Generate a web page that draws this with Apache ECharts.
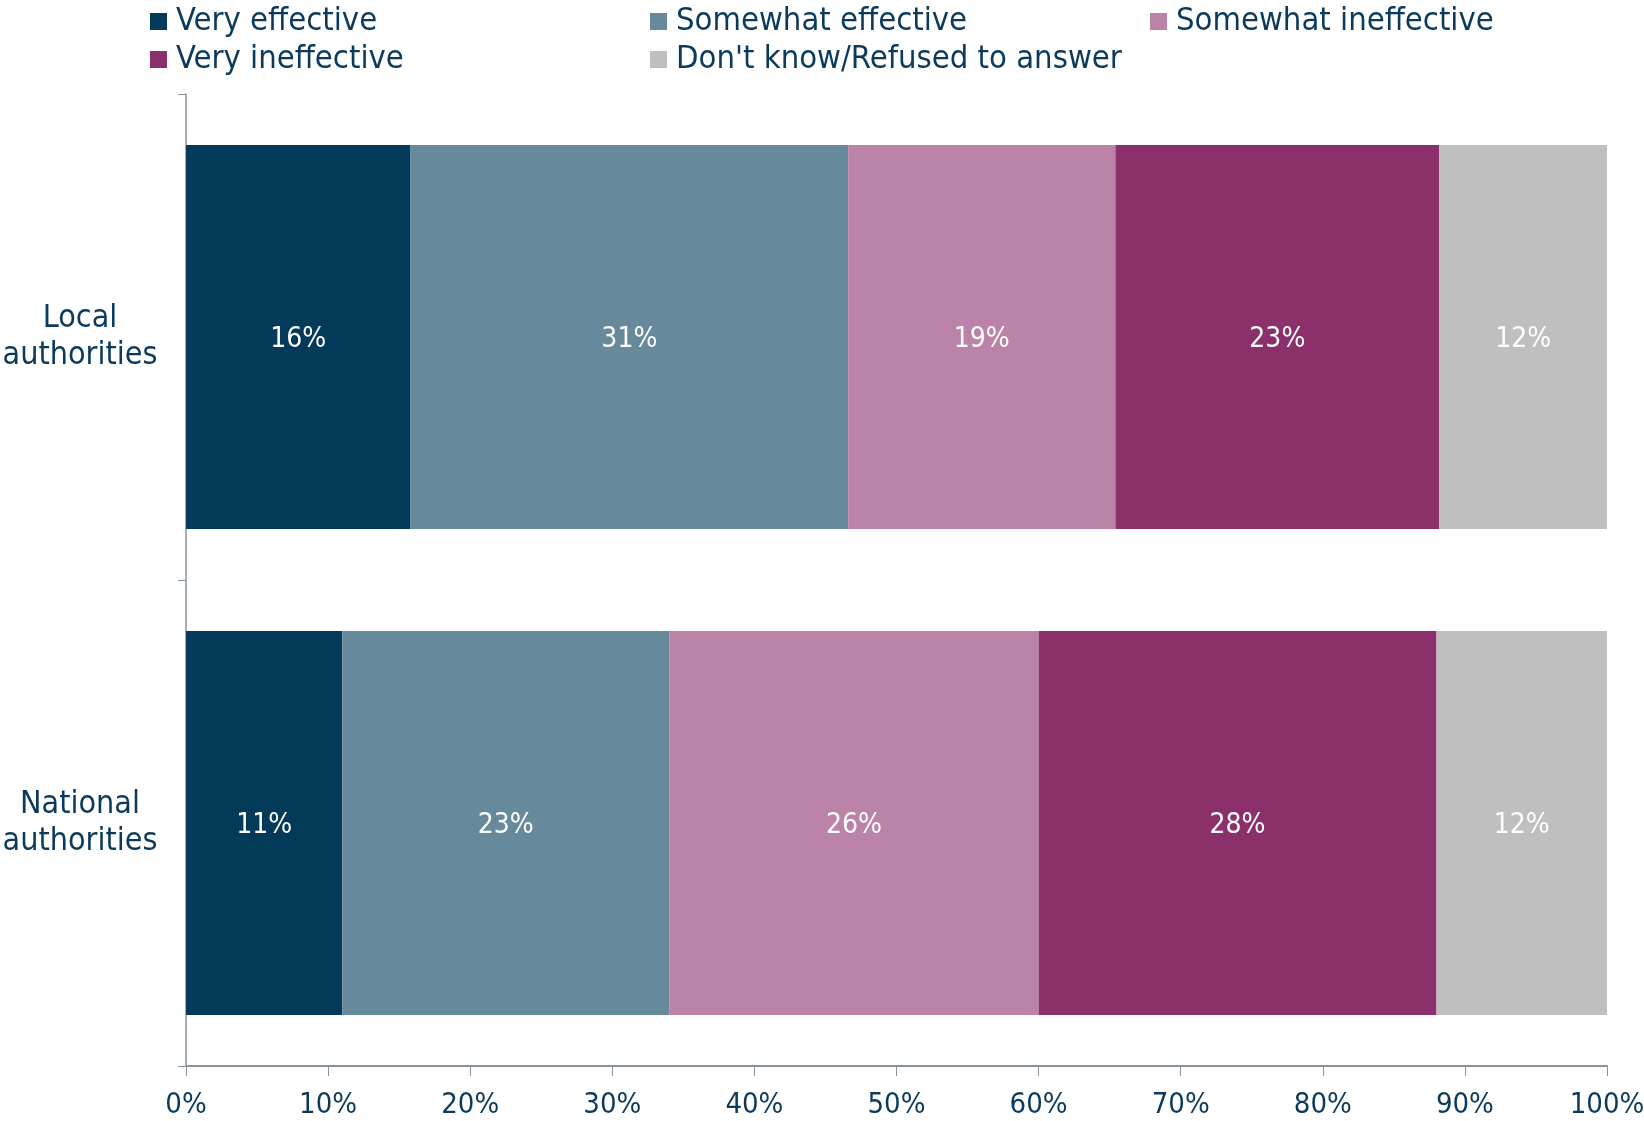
<!DOCTYPE html>
<html><head><meta charset="utf-8">
<script src="https://cdn.jsdelivr.net/npm/echarts@6/dist/echarts.min.js"></script>
<style>html,body{margin:0;padding:0;background:#fff}#c{width:1644px;height:1121px}</style>
</head><body><div id="c"></div>
<script>
const categories = ['Local\nauthorities', 'National\nauthorities'];
const seriesNames = ['Very effective', 'Somewhat effective', 'Somewhat ineffective', 'Very ineffective', "Don't know/Refused to answer"];
const veryEffective = [15.8, 11.0];
const somewhatEffective = [30.8, 23.0];
const somewhatIneffective = [18.8, 26.0];
const veryIneffective = [22.8, 28.0];
const dontKnow = [11.8, 12.0];
const colors = ['#033A5A', '#67899C', '#BB83A8', '#8C306C', '#BFBFBF'];
const values = [veryEffective, somewhatEffective, somewhatIneffective, veryIneffective, dontKnow];
const FONT = '"DejaVu Sans Condensed", "DejaVu Sans", sans-serif';
const TXT = '#0B3A5C';

const legendPos = [[150, 5], [650, 5], [1150, 5], [150, 43], [650, 43]];
const legends = seriesNames.map((n, i) => ({
  data: [n], left: legendPos[i][0], top: legendPos[i][1], itemWidth: 17, itemHeight: 17, itemGap: 6,
  icon: 'rect', textStyle: {fontFamily: FONT, fontSize: 32.5, color: TXT, padding: [0, 0, 0, 4]}, selectedMode: false, padding: 0
}));

const chart = echarts.init(document.getElementById('c'));
chart.setOption({
  animation: false,
  legend: legends,
  grid: {left: 186, right: 37, top: 94, bottom: 55, containLabel: false, outerBoundsMode: 'none'},
  xAxis: {
    type: 'value', min: 0, max: 100, interval: 10,
    axisLine: {show: true, lineStyle: {color: '#8A949E', width: 2}},
    axisTick: {show: true, length: 10, lineStyle: {color: '#8A949E'}},
    splitLine: {show: false},
    axisLabel: {formatter: '{value}%', fontFamily: FONT, fontSize: 29, color: TXT, margin: 25}
  },
  yAxis: {
    type: 'category', data: categories, inverse: true,
    axisLine: {show: true, lineStyle: {color: '#8A949E', width: 1.5}},
    axisTick: {show: true, length: 8, lineStyle: {color: '#8A949E'}},
    axisLabel: {fontFamily: FONT, fontSize: 32, color: TXT, align: 'center', margin: 106, lineHeight: 37}
  },
  series: values.map((v, i) => ({
    name: seriesNames[i], type: 'bar', stack: 'total', data: v, barWidth: '79%',
    itemStyle: {color: colors[i]},
    label: {show: true, position: 'inside', color: '#fff', fontFamily: FONT, fontSize: 28, offset: [0, 3],
      formatter: p => Math.round(p.value) + '%'}
  }))
});
</script></body></html>
